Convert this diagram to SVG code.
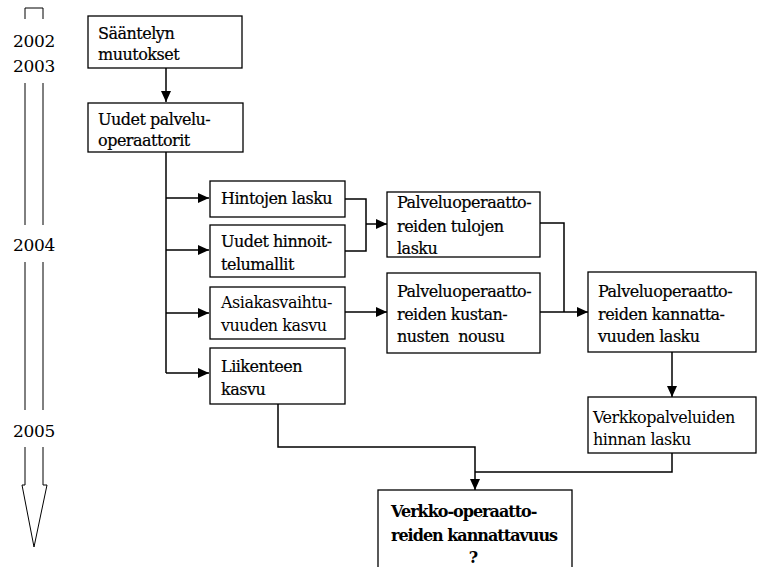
<svg xmlns="http://www.w3.org/2000/svg" width="757" height="567" viewBox="0 0 757 567" font-family="'DejaVu Serif', serif">
<style>
.bg{fill:#fff}
.box{fill:#fff;stroke:#000;stroke-width:1.3}
.t{font-size:16px;fill:#000;letter-spacing:-0.5px}
.d{stroke:#000;stroke-width:0.2}
.b{font-weight:bold;letter-spacing:-1px}
.yr{font-size:17px;fill:#000;text-anchor:middle;letter-spacing:-0.3px}
.tl{fill:none;stroke:#000;stroke-width:1}
.c{fill:none;stroke:#000;stroke-width:1.5}
</style>
<defs>
<marker id="ah" markerUnits="userSpaceOnUse" markerWidth="12" markerHeight="10" refX="11" refY="5" orient="auto">
<path d="M0,0 L11,5 L0,10 Z" fill="#000"/>
</marker>
</defs>
<rect class="bg" x="0" y="0" width="757" height="567"/>
<g id="timeline">
<path class="tl" d="M25,19 V8 H43 V19 M25,83 V225 M43,83 V225 M25,262 V410 M43,262 V410 M25,447 V485 H22 L34,547 L47,485 H43 V447"/>
<text class="yr" x="34" y="47">2002</text>
<text class="yr" x="34" y="72">2003</text>
<text class="yr" x="34" y="251">2004</text>
<text class="yr" x="34" y="437">2005</text>
</g>
<g id="connectors">
<path class="c" d="M166,68 V102" marker-end="url(#ah)"/>
<path class="c" d="M166,152 V373"/>
<path class="c" d="M166,198 H209" marker-end="url(#ah)"/>
<path class="c" d="M166,250 H209" marker-end="url(#ah)"/>
<path class="c" d="M166,313 H209" marker-end="url(#ah)"/>
<path class="c" d="M166,373 H209" marker-end="url(#ah)"/>
<path class="c" d="M345,199 H366 V251 H345"/>
<path class="c" d="M366,224 H387" marker-end="url(#ah)"/>
<path class="c" d="M345,312 H387" marker-end="url(#ah)"/>
<path class="c" d="M540,223 H564 V312"/>
<path class="c" d="M540,312 H588" marker-end="url(#ah)"/>
<path class="c" d="M672,352 V397" marker-end="url(#ah)"/>
<path class="c" d="M672,453 V472 H475"/>
<path class="c" d="M278,404 V447 H475 V490" marker-end="url(#ah)"/>
</g>
<g id="n1">
<rect class="box" x="88" y="16" width="154" height="52"/>
<text class="t d" x="98" y="39">Sääntelyn</text>
<text class="t d" x="98" y="60">muutokset</text>
</g>
<g id="n2">
<rect class="box" x="88" y="103" width="155" height="49"/>
<text class="t d" x="98" y="125">Uudet palvelu-</text>
<text class="t d" x="98" y="146">operaattorit</text>
</g>
<g id="n3">
<rect class="box" x="210" y="181" width="135" height="36"/>
<text class="t d" x="221" y="204">Hintojen lasku</text>
</g>
<g id="n4">
<rect class="box" x="210" y="225" width="135" height="52"/>
<text class="t d" x="221" y="247">Uudet hinnoit-</text>
<text class="t d" x="221" y="270">telumallit</text>
</g>
<g id="n5">
<rect class="box" x="210" y="287" width="135" height="52"/>
<text class="t" x="221" y="308">Asiakasvaihtu-</text>
<text class="t" x="221" y="331">vuuden kasvu</text>
</g>
<g id="n6">
<rect class="box" x="210" y="348" width="135" height="56"/>
<text class="t d" x="221" y="372">Liikenteen</text>
<text class="t d" x="221" y="395">kasvu</text>
</g>
<g id="n7">
<rect class="box" x="387" y="192" width="153" height="65"/>
<text class="t d" x="397" y="208">Palveluoperaatto-</text>
<text class="t d" x="397" y="232">reiden tulojen</text>
<text class="t d" x="397" y="254">lasku</text>
</g>
<g id="n8">
<rect class="box" x="387" y="273" width="153" height="80"/>
<text class="t d" x="397" y="297">Palveluoperaatto-</text>
<text class="t d" x="397" y="320">reiden kustan-</text>
<text class="t d" x="397" y="342" xml:space="preserve">nusten  nousu</text>
</g>
<g id="n9">
<rect class="box" x="588" y="272" width="168" height="80"/>
<text class="t d" x="598" y="297">Palveluoperaatto-</text>
<text class="t d" x="598" y="320">reiden kannatta-</text>
<text class="t d" x="598" y="342">vuuden lasku</text>
</g>
<g id="n10">
<rect class="box" x="588" y="397" width="168" height="56"/>
<text class="t" x="593" y="423">Verkkopalveluiden</text>
<text class="t" x="593" y="445">hinnan lasku</text>
</g>
<g id="n11">
<rect class="box" x="378" y="490" width="194" height="90"/>
<text class="t b" x="391" y="517">Verkko-operaatto-</text>
<text class="t b" x="391" y="541">reiden kannattavuus</text>
<text class="t b" x="473" y="563" text-anchor="middle">?</text>
</g>
</svg>
